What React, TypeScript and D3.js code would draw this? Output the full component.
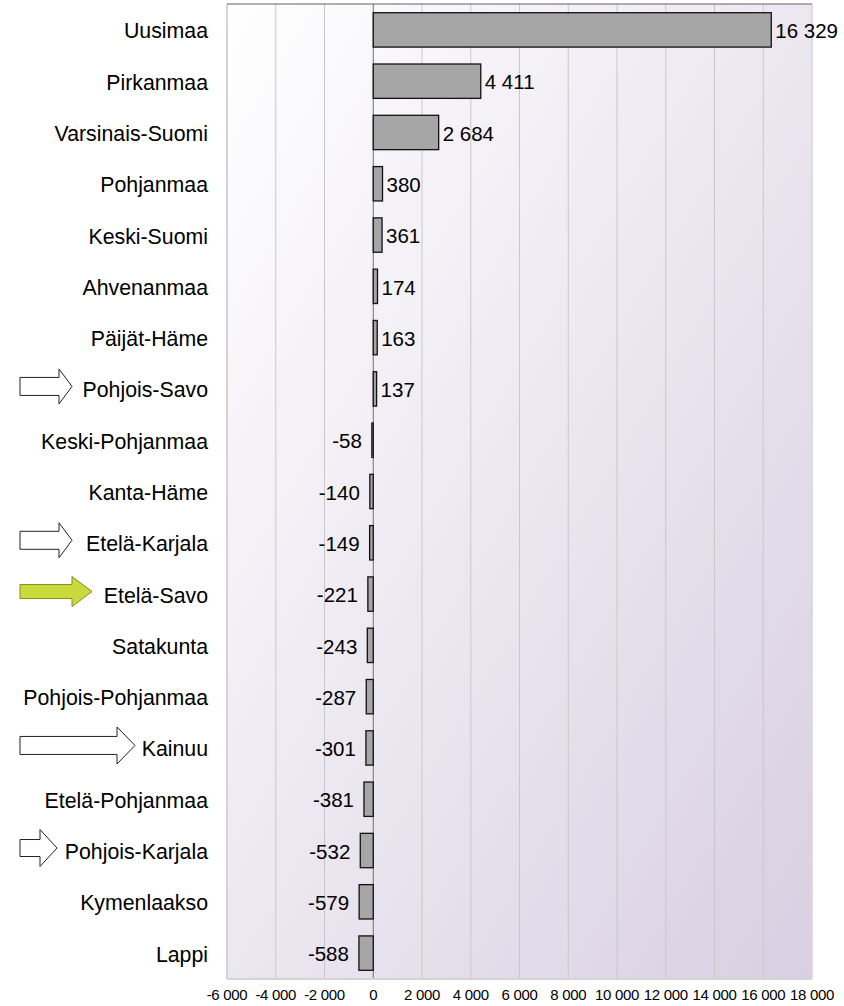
import React from "react";
import * as d3 from "d3";

const regions = [
  "Uusimaa", "Pirkanmaa", "Varsinais-Suomi", "Pohjanmaa", "Keski-Suomi", "Ahvenanmaa",
  "Päijät-Häme", "Pohjois-Savo", "Keski-Pohjanmaa", "Kanta-Häme", "Etelä-Karjala",
  "Etelä-Savo", "Satakunta", "Pohjois-Pohjanmaa", "Kainuu", "Etelä-Pohjanmaa",
  "Pohjois-Karjala", "Kymenlaakso", "Lappi",
];
const values = [16329, 4411, 2684, 380, 361, 174, 163, 137, -58, -140, -149, -221, -243, -287, -301, -381, -532, -579, -588];
const ticks = [-6000, -4000, -2000, 0, 2000, 4000, 6000, 8000, 10000, 12000, 14000, 16000, 18000];
const arrowRegions = ["Pohjois-Savo", "Etelä-Karjala", "Etelä-Savo", "Kainuu", "Pohjois-Karjala"];
const arrowHighlight = [false, false, true, false, false];
// arrow geometry (annotation styling): length, head length, half head height, half shaft height
const arrowShape = [
  [52, 13, 17.5, 9],
  [52, 13, 17.5, 9],
  [72, 20, 15, 7],
  [115, 18, 18.5, 9],
  [37, 17, 18.5, 8.5],
];

const W = 844, H = 1006;
const left = 227, right = 812, top = 4, bottom = 979;

const fmt = (v: number) => {
  const s = Math.abs(v).toString().replace(/\B(?=(\d{3})+(?!\d))/g, " ");
  return (v < 0 ? "-" : "") + s;
};

export default function App() {
  const x = d3.scaleLinear().domain([-6000, 18000]).range([left, right]);
  const y = d3.scaleBand<string>().domain(regions).range([top, bottom]).paddingInner(0.33).paddingOuter(0.17);
  const x0 = x(0);
  const font = "'Liberation Sans', Arial, sans-serif";
  return (
    <svg width={W} height={H} style={{ position: "absolute", left: 0, top: 0 }} fontFamily={font}>
      <defs>
        <linearGradient id="bg" x1="0" y1="0" x2="1" y2="1">
          <stop offset="0" stopColor="#ffffff" />
          <stop offset="1" stopColor="#d8cfe2" />
        </linearGradient>
      </defs>
      <rect x={0} y={0} width={W} height={H} fill="#fff" />
      <rect x={left} y={top} width={right - left} height={bottom - top} fill="url(#bg)" />
      {ticks.map((t) => (
        <line key={t} x1={x(t)} x2={x(t)} y1={top} y2={bottom} stroke={t === 0 ? "#707070" : "#c8c8c8"} strokeWidth={1} />
      ))}
      <line x1={left} x2={left} y1={top} y2={bottom} stroke="#d4d4d4" strokeWidth={2} />
      <line x1={right} x2={right} y1={top} y2={bottom} stroke="#dcdcdc" strokeWidth={1.5} />
      <line x1={left} x2={right} y1={bottom} y2={bottom} stroke="#d4d4d4" strokeWidth={2} />
      <line x1={left} x2={right} y1={top} y2={top} stroke="#606060" strokeWidth={1} />
      {regions.map((r, i) => {
        const v = values[i];
        const bx = Math.min(x(v), x0);
        const bw = Math.abs(x(v) - x0);
        const by = y(r)!;
        const bh = y.bandwidth();
        const cy = by + bh / 2;
        return (
          <g key={r}>
            <rect x={bx} y={by} width={Math.max(bw, 0.5)} height={bh} fill="#a6a6a6" stroke="#111" strokeWidth={1.3} />
            <text x={v >= 0 ? x(v) + 4 : x(v) - 10} y={cy + 1} dy="0.35em" fontSize={20.5} textAnchor={v >= 0 ? "start" : "end"} fill="#000">
              {fmt(v)}
            </text>
            <text x={208} y={cy + 1} dy="0.35em" fontSize={21.3} textAnchor="end" fill="#000">{r}</text>
          </g>
        );
      })}
      {arrowRegions.map((r, i) => {
        const cy = y(r)! + y.bandwidth() / 2 - 2.5;
        const [len, hw, hh, sh] = arrowShape[i];
        const x1 = 20;
        const x2 = x1 + len;
        const hx = x2 - hw;
        const p = d3.path();
        p.moveTo(x1, cy - sh);
        p.lineTo(hx, cy - sh);
        p.lineTo(hx, cy - hh);
        p.lineTo(x2, cy);
        p.lineTo(hx, cy + hh);
        p.lineTo(hx, cy + sh);
        p.lineTo(x1, cy + sh);
        p.closePath();
        return (
          <path key={r} d={p.toString()} fill={arrowHighlight[i] ? "#c9db3c" : "#ffffff"} stroke={arrowHighlight[i] ? "#7f8f1a" : "#222"} strokeWidth={1} />
        );
      })}
      {ticks.map((t) => (
        <text key={t} x={x(t)} y={995} dy="0.35em" fontSize={15} letterSpacing={-0.3} textAnchor="middle" fill="#000">
          {fmt(t)}
        </text>
      ))}
    </svg>
  );
}
